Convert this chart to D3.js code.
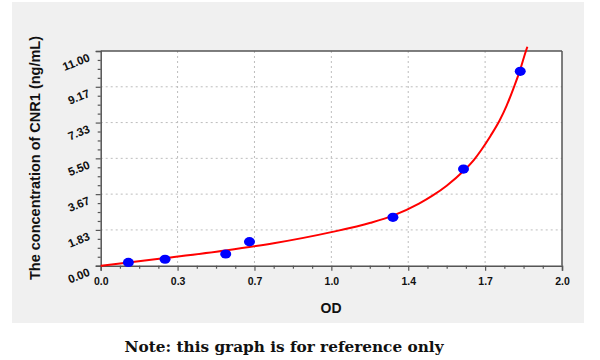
<!DOCTYPE html>
<html><head><meta charset="utf-8">
<script src="https://cdn.jsdelivr.net/npm/d3@7"></script>
<style>body{margin:0;background:#fff;}svg{display:block;}</style>
</head><body>
<svg id="c" width="600" height="360"></svg>
<script>
// Data
const pointOD   = [0.12, 0.279, 0.542, 0.645, 1.267, 1.573, 1.819];
const pointConc = [0.17, 0.33, 0.60, 1.23, 2.48, 4.95, 9.96];
const curveOD   = [0, 0.12, 0.28, 0.54, 0.75, 1.0, 1.17, 1.27, 1.38, 1.44, 1.50, 1.573, 1.62, 1.65, 1.69, 1.73, 1.76, 1.79, 1.816, 1.845, 1.85];
const curveConc = [0, 0.16, 0.39, 0.78, 1.15, 1.72, 2.20, 2.58, 3.18, 3.60, 4.10, 4.85, 5.45, 5.93, 6.65, 7.45, 8.2, 9.1, 9.94, 11.05, 11.22];
const xTickVals   = [0, 1/3, 2/3, 1, 4/3, 5/3, 2];
const xTickLabels = ["0.0", "0.3", "0.7", "1.0", "1.4", "1.7", "2.0"];
const yTickVals   = [0, 11/6, 22/6, 33/6, 44/6, 55/6, 11];
const yTickLabels = ["0.00", "1.83", "3.67", "5.50", "7.33", "9.17", "11.00"];

const svg = d3.select("#c");
const L = 100.7, R = 562, T = 51, B = 265.7;
const x = d3.scaleLinear().domain([0, 2]).range([L, R]);
const y = d3.scaleLinear().domain([0, 11]).range([B, T]);
const sans = "Liberation Sans, Arial, sans-serif";

// background panel
svg.append("rect").attr("x", 12).attr("y", 2).attr("width", 572).attr("height", 321).attr("fill", "#f0f0f0");
svg.append("rect").attr("x", L).attr("y", T).attr("width", R - L).attr("height", B - T).attr("fill", "#fff");

// grid
const grid = svg.append("g").attr("stroke", "#bdbdbd").attr("stroke-width", 1).attr("stroke-dasharray", "2,3");
xTickVals.slice(1, -1).forEach(v => grid.append("line").attr("x1", x(v)).attr("x2", x(v)).attr("y1", T).attr("y2", B));
yTickVals.slice(1, -1).forEach(v => grid.append("line").attr("x1", L).attr("x2", R).attr("y1", y(v)).attr("y2", y(v)));

// minor tick values
const xMinor = [], yMinor = [];
for (let i = 0; i < 6; i++) for (let j = 1; j < 4; j++) { xMinor.push((i + j / 4) / 3); yMinor.push((i + j / 4) * 11 / 6); }

// x axis
const xAxis = svg.append("g").attr("transform", `translate(0,${B})`)
  .call(d3.axisBottom(x).tickValues(xTickVals).tickFormat((d, i) => xTickLabels[i]).tickSize(5).tickPadding(7));
svg.append("g").attr("transform", `translate(0,${B})`)
  .call(d3.axisBottom(x).tickValues(xMinor).tickFormat("").tickSize(3)).call(g => g.select(".domain").remove());
// y axis
const yAxis = svg.append("g").attr("transform", `translate(${L},0)`)
  .call(d3.axisLeft(y).tickValues(yTickVals).tickFormat((d, i) => yTickLabels[i]).tickSize(5).tickPadding(6));
svg.append("g").attr("transform", `translate(${L},0)`)
  .call(d3.axisLeft(y).tickValues(yMinor).tickFormat("").tickSize(3)).call(g => g.select(".domain").remove());

svg.selectAll(".tick line").attr("stroke", "#555").attr("stroke-width", 1.2);
svg.selectAll(".domain").attr("stroke", "#555").attr("stroke-width", 1.5);
xAxis.selectAll("text").attr("font-family", sans).attr("font-weight", "bold").attr("font-size", 10.5).attr("fill", "#111");
yAxis.selectAll(".tick text").attr("font-family", sans).attr("font-weight", "bold").attr("font-size", 11.5).attr("fill", "#111")
  .attr("x", 0).attr("dy", null).attr("text-anchor", "end")
  .attr("transform", "translate(-10,9) rotate(-22)");

// frame top/right
svg.append("line").attr("x1", L).attr("x2", R).attr("y1", T).attr("y2", T).attr("stroke", "#555").attr("stroke-width", 1.5);
svg.append("line").attr("x1", R).attr("x2", R).attr("y1", T).attr("y2", B).attr("stroke", "#555").attr("stroke-width", 1.5);

// curve
const curve = curveOD.map((d, i) => [d, curveConc[i]]);
svg.append("path").datum(curve)
  .attr("d", d3.line().x(d => x(d[0])).y(d => y(d[1])).curve(d3.curveMonotoneX))
  .attr("fill", "none").attr("stroke", "#ff0000").attr("stroke-width", 2);

// points
svg.append("g").selectAll("ellipse").data(pointOD.map((d, i) => [d, pointConc[i]])).join("ellipse")
  .attr("cx", d => x(d[0])).attr("cy", d => y(d[1])).attr("rx", 5.5).attr("ry", 4.6).attr("fill", "#0000ff");

// titles
svg.append("text").attr("x", 331).attr("y", 313).attr("text-anchor", "middle")
  .attr("font-family", sans).attr("font-weight", "bold").attr("font-size", 14).attr("fill", "#111").text("OD");
svg.append("text").attr("transform", "translate(40,158) rotate(-90)").attr("text-anchor", "middle")
  .attr("font-family", sans).attr("font-weight", "bold").attr("font-size", 14.5).attr("fill", "#111")
  .text("The concentration of CNR1 (ng/mL)");
svg.append("text").attr("x", 284).attr("y", 352).attr("text-anchor", "middle")
  .attr("font-family", "DejaVu Serif, serif").attr("font-weight", "bold").attr("font-size", 15.3).attr("fill", "#111")
  .text("Note: this graph is for reference only");
</script>
</body></html>
